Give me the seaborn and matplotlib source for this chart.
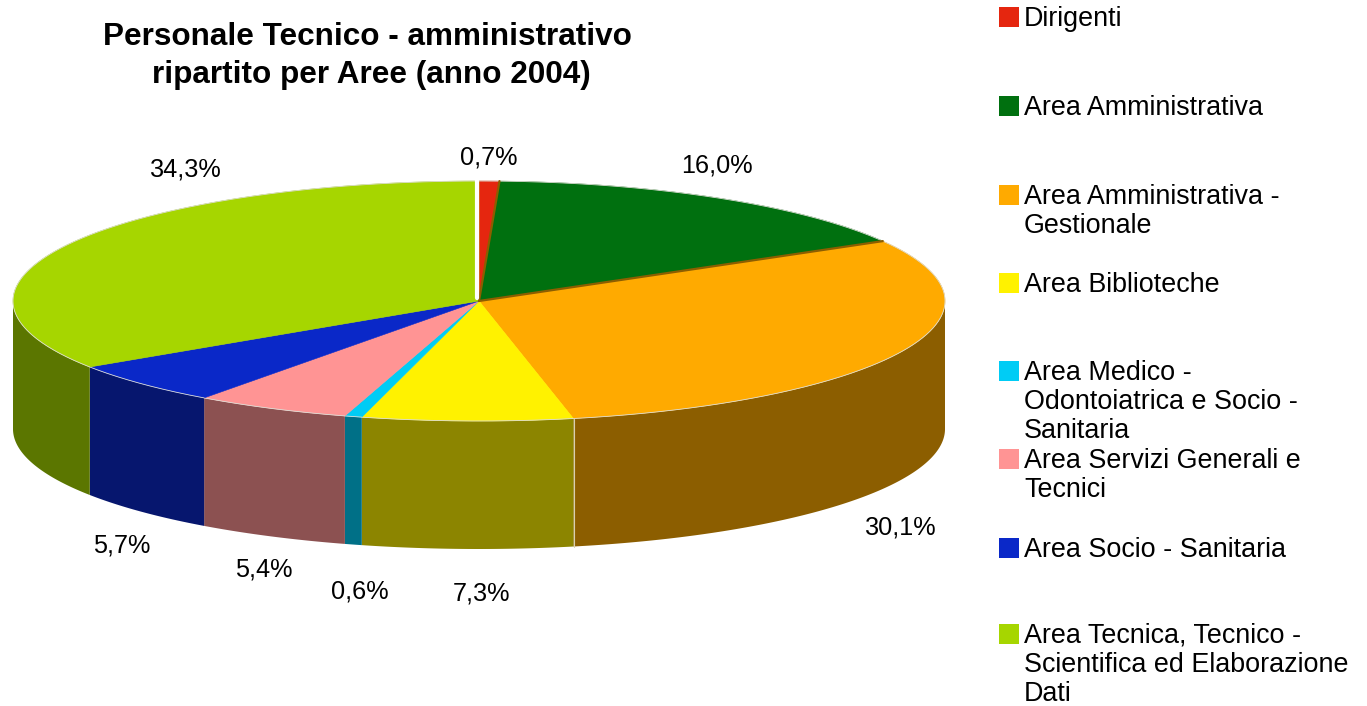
import numpy as np
import matplotlib
matplotlib.use("Agg")
import matplotlib.pyplot as plt
import seaborn as sns

categories = ["Dirigenti", "Area Amministrativa", "Area Amministrativa -\nGestionale",
              "Area Biblioteche", "Area Medico -\nOdontoiatrica e Socio -\nSanitaria",
              "Area Servizi Generali e\nTecnici", "Area Socio - Sanitaria",
              "Area Tecnica, Tecnico -\nScientifica ed Elaborazione\nDati"]
values = [0.7, 16.0, 30.1, 7.3, 0.6, 5.4, 5.7, 34.3]
labels = ["0,7%", "16,0%", "30,1%", "7,3%", "0,6%", "5,4%", "5,7%", "34,3%"]
colors = ["#e5260f", "#00700f", "#ffaa00", "#fff200", "#00ccf5", "#ff9494", "#0a28c8", "#a6d600"]
label_pos = [(489, 157), (717, 165), (901, 527), (481, 593), (360, 592), (264, 569), (122, 545), (186, 170)]
legend_y = [17, 106, 195, 283, 371, 459, 548, 634]
title_lines = ["Personale Tecnico - amministrativo", "ripartito per Aree (anno 2004)"]
title_pos = [(367.5, 37), (371.5, 75)]

sns.set_theme(style="white")
plt.rcParams["font.family"] = ["Liberation Sans", "DejaVu Sans"]

cx, cy, rx, ry, depth = 479, 301, 466, 120, 128
palette = sns.color_palette(colors)

fig, ax = plt.subplots(figsize=(13.67, 7.06), dpi=100)
ax.set_position([0, 0, 1, 1])
ax.set_xlim(0, 1367)
ax.set_ylim(706, 0)
ax.axis("off")

edges = np.cumsum([0] + values) / sum(values) * 2 * np.pi


def rim(a0, a1):
    t = np.linspace(a0, a1, 200)
    return cx + rx * np.sin(t), cy - ry * np.cos(t)


# side walls, only the part that faces the viewer
for i, c in enumerate(palette):
    a0, a1 = max(edges[i], np.pi / 2), min(edges[i + 1], 3 * np.pi / 2)
    if a1 <= a0:
        continue
    x, y = rim(a0, a1)
    ax.fill(np.r_[x, x[::-1]], np.r_[y, y[::-1] + depth],
            color=tuple(v * 0.55 for v in c), lw=0, zorder=2)

# top face
for i, c in enumerate(palette):
    x, y = rim(edges[i], edges[i + 1])
    ax.fill(np.r_[cx, x], np.r_[cy, y], facecolor=c, edgecolor=c, lw=0.4, zorder=3)
    ax.plot(x, y, color="#dcdcd4", lw=0.6, zorder=3)

# darker seams on the orange slice, white gap at 12 o'clock
for i in [1, 2]:
    x, y = rim(edges[i], edges[i])
    ax.plot([cx, x[0]], [cy, y[0]], color=tuple(v * 0.55 for v in palette[2]), lw=1.6, zorder=4)
ax.plot([cx - 2, cx - 2], [cy - ry - 1, cy - 3], color="white", lw=3, zorder=5)

# thin light line on the wall at the yellow / orange edge
x, y = rim(edges[3], edges[3])
ax.plot([x[0] + 1, x[0] + 1], [y[0], y[0] + depth], color="#d8d0b0", lw=0.8, zorder=4)

for (lx, ly), t in zip(label_pos, labels):
    ax.text(lx, ly, t, fontsize=18.2, color="black", ha="center", va="center")

for (tx, ty), t in zip(title_pos, title_lines):
    ax.text(tx, ty, t, fontsize=22.7, fontweight="bold", ha="center", va="center", color="black")

# each legend line on its own so the spacing stays even
for y, c, name in zip(legend_y, palette, categories):
    ax.scatter([1008.5], [y], marker="s", s=190, color=c, lw=0, zorder=3)
    for k, line in enumerate(name.split("\n")):
        ax.text(1024, y + 9 + k * 29, line, fontsize=19.4, ha="left", va="baseline", color="black")

fig.savefig("out.png", dpi=100, facecolor="white")
